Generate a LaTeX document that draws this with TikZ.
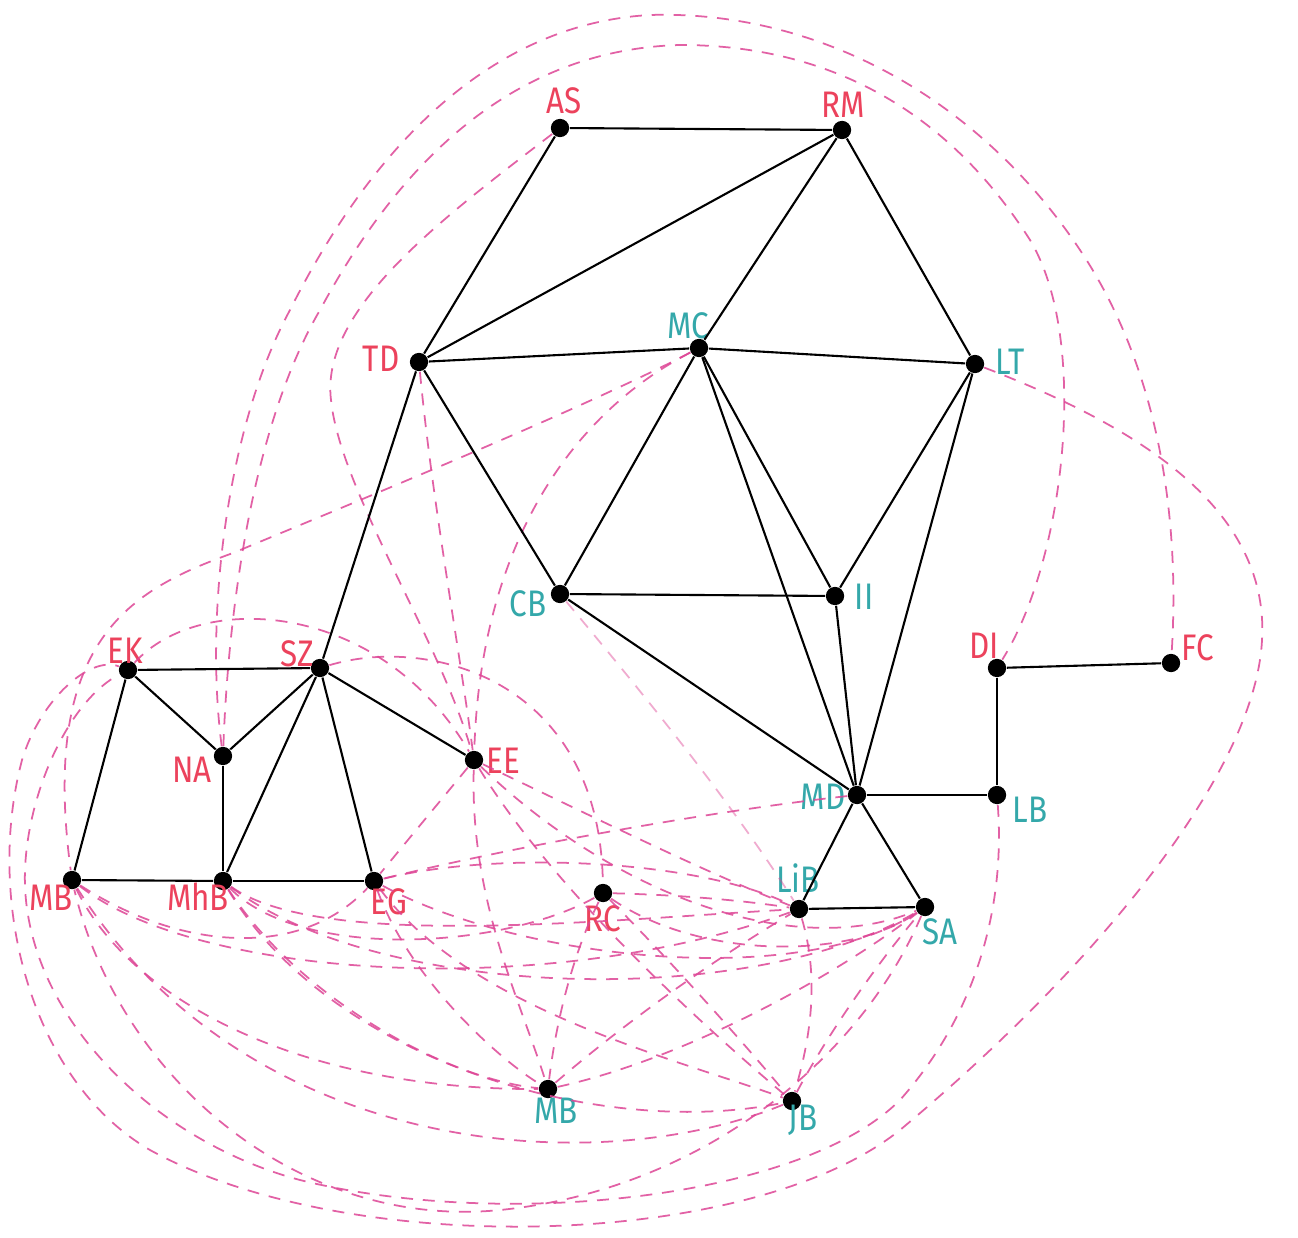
\documentclass[tikz,border=0pt]{standalone}
\usepackage{fontspec}
\setmainfont{Fira Sans}[FakeStretch=0.85]
\definecolor{redl}{RGB}{236,66,92}
\definecolor{tealc}{RGB}{52,168,170}
\definecolor{pinkd}{RGB}{222,70,150}
\tikzset{
  dot/.style={circle,fill=black,inner sep=0pt,minimum size=5.2pt},
  rl/.style={text=redl,font=\fontsize{10.5}{12}\selectfont,inner sep=0pt},
  tl/.style={text=tealc,font=\fontsize{10.5}{12}\selectfont,inner sep=0pt},
  sl/.style={line width=0.6pt,black},
  dl/.style={draw=pinkd,line width=0.5pt,dash pattern=on 3.4pt off 2.8pt,opacity=0.85},
}
\begin{document}
\begin{tikzpicture}[x=0.01cm,y=-0.01cm]
\useasboundingbox[fill=white] (0,0) rectangle (1298,1237);
% nodes
\node[dot] (AS) at (560,128) {};
\node[dot] (RM) at (842,130) {};
\node[dot] (TD) at (419,362) {};
\node[dot] (MC) at (699,348) {};
\node[dot] (LT) at (975,364) {};
\node[dot] (CB) at (560,594) {};
\node[dot] (II) at (835,596) {};
\node[dot] (DI) at (997,668) {};
\node[dot] (FC) at (1171,663) {};
\node[dot] (EK) at (128,670) {};
\node[dot] (SZ) at (320,668) {};
\node[dot] (NA) at (223,756) {};
\node[dot] (EE) at (474,760) {};
\node[dot] (MD) at (857,795) {};
\node[dot] (LB) at (997,795) {};
\node[dot] (MBL) at (72,880) {};
\node[dot] (MhB) at (223,881) {};
\node[dot] (EG) at (374,881) {};
\node[dot] (RC) at (603,893) {};
\node[dot] (LiB) at (799,909) {};
\node[dot] (SA) at (925,907) {};
\node[dot] (MB2) at (548,1089) {};
\node[dot] (JB) at (792,1101) {};
% labels
\node[rl] (lAS) at (564,101) {AS};
\node[rl] (lRM) at (843,105) {RM};
\node[rl] (lTD) at (381,359) {TD};
\node[tl] (lMC) at (688,326) {MC};
\node[tl] (lLT) at (1010,362) {LT};
\node[tl] (lCB) at (528,604) {CB};
\node[tl] (lII) at (864,597) {II};
\node[rl] (lDI) at (984,646) {DI};
\node[rl] (lFC) at (1198,648) {FC};
\node[rl] (lEK) at (125,651) {EK};
\node[rl] (lSZ) at (297,654) {SZ};
\node[rl] (lNA) at (192,770) {NA};
\node[rl] (lEE) at (503,761) {EE};
\node[tl] (lMD) at (823,797) {MD};
\node[tl] (lLB) at (1030,810) {LB};
\node[rl] (lMBL) at (51,898) {MB};
\node[rl] (lMhB) at (198,897) {MhB};
\node[rl] (lEG) at (389,902) {EG};
\node[rl] (lRC) at (603,919) {RC};
\node[tl] (lLiB) at (798,878) {LiB};
\node[tl] (lSA) at (940,932) {SA};
\node[tl] (lMB2) at (556,1111) {MB};
\node[tl] (lJB) at (803,1120) {JB};
% dashed connectors
\draw[dl] (NA) .. controls (205,620) and (225,430) .. (290,310) .. controls (355,180) and (470,25) .. (650,15) .. controls (820,10) and (980,100) .. (1080,250) .. controls (1160,370) and (1180,520) .. (FC);
\draw[dl] (NA) .. controls (228,620) and (250,430) .. (320,310) .. controls (390,180) and (500,50) .. (680,45) .. controls (850,45) and (960,130) .. (1030,240) .. controls (1090,340) and (1065,560) .. (DI);
\draw[dl] (AS) .. controls (440,220) and (320,310) .. (331,400) .. controls (340,490) and (440,640) .. (EE);
\draw[dl] (TD) .. controls (432,500) and (458,640) .. (EE);
\draw[dl] (MC) .. controls (560,420) and (480,560) .. (EE);
\draw[dl] (MC) .. controls (580,410) and (360,500) .. (233,553) .. controls (130,590) and (40,640) .. (MBL);
\draw[dl] (LT) .. controls (1120,420) and (1270,500) .. (1262,640) .. controls (1255,780) and (1080,980) .. (900,1130) .. controls (750,1250) and (350,1260) .. (150,1150) .. controls (30,1080) and (-15,900) .. (22,760) .. controls (40,700) and (90,655) .. (EK);
\draw[dl] (LB) .. controls (1005,900) and (980,1010) .. (900,1100) .. controls (800,1200) and (500,1230) .. (300,1180) .. controls (150,1140) and (20,1010) .. (25,870) .. controls (28,790) and (70,700) .. (EK);
\draw[dl] (SA) .. controls (860,1060) and (700,1190) .. (500,1210) .. controls (300,1230) and (120,1080) .. (MBL);
\draw[dl] (JB) .. controls (600,1180) and (250,1160) .. (MBL);
\draw[dl] (MBL) .. controls (130,1000) and (300,1090) .. (MB2);
\draw[dl] (MBL) .. controls (200,980) and (550,1000) .. (LiB);
\draw[dl] (MBL) .. controls (180,950) and (300,960) .. (EG);
\draw[dl] (MhB) .. controls (300,1000) and (450,1080) .. (MB2);
\draw[dl] (MhB) .. controls (330,1060) and (600,1140) .. (JB);
\draw[dl] (MhB) .. controls (380,1000) and (750,1010) .. (SA);
\draw[dl] (MhB) .. controls (320,950) and (600,920) .. (LiB);
\draw[dl] (MhB) .. controls (300,960) and (500,950) .. (RC);
\draw[dl] (EG) .. controls (410,980) and (500,1060) .. (MB2);
\draw[dl] (EG) .. controls (470,1010) and (680,1060) .. (JB);
\draw[dl] (EG) .. controls (500,850) and (700,860) .. (LiB);
\draw[dl] (EG) .. controls (520,960) and (800,990) .. (SA);
\draw[dl] (EE) -- (EG);
\draw[dl] (EE) .. controls (470,900) and (520,1000) .. (MB2);
\draw[dl] (EE) .. controls (560,900) and (720,1040) .. (JB);
\draw[dl] (EE) .. controls (600,820) and (700,870) .. (LiB);
\draw[dl] (EE) .. controls (620,900) and (800,960) .. (SA);
\draw[dl] (RC) .. controls (570,960) and (555,1030) .. (MB2);
\draw[dl] (RC) .. controls (670,960) and (750,1050) .. (JB);
\draw[dl] (RC) .. controls (680,895) and (740,900) .. (LiB);
\draw[dl] (RC) .. controls (700,960) and (850,960) .. (SA);
\draw[dl] (SZ) .. controls (430,635) and (600,680) .. (RC);
\draw[dl] (EK) .. controls (200,590) and (380,600) .. (EE);
\draw[dl,opacity=.45] (CB) .. controls (640,690) and (730,800) .. (LiB);
\draw[dl] (MD) .. controls (720,810) and (520,845) .. (EG);
\draw[dl] (MB2) .. controls (680,1060) and (830,980) .. (SA);
\draw[dl] (MB2) .. controls (640,1010) and (730,950) .. (LiB);
\draw[dl] (JB) .. controls (830,1030) and (880,960) .. (SA);
\draw[dl] (LiB) .. controls (820,980) and (810,1040) .. (JB);
% solid connectors
\foreach \a/\b in {AS/RM,AS/TD,RM/TD,RM/MC,RM/LT,TD/MC,MC/LT,TD/CB,TD/SZ,MC/CB,MC/II,MC/MD,LT/II,LT/MD,CB/II,CB/MD,II/MD,MD/LB,MD/LiB,MD/SA,LiB/SA,DI/FC,DI/LB,EK/SZ,EK/NA,NA/SZ,NA/MhB,EK/MBL,MBL/MhB,MhB/EG,SZ/MhB,SZ/EG,SZ/EE}
  \draw[sl] (\a) -- (\b);
\end{tikzpicture}
\end{document}
